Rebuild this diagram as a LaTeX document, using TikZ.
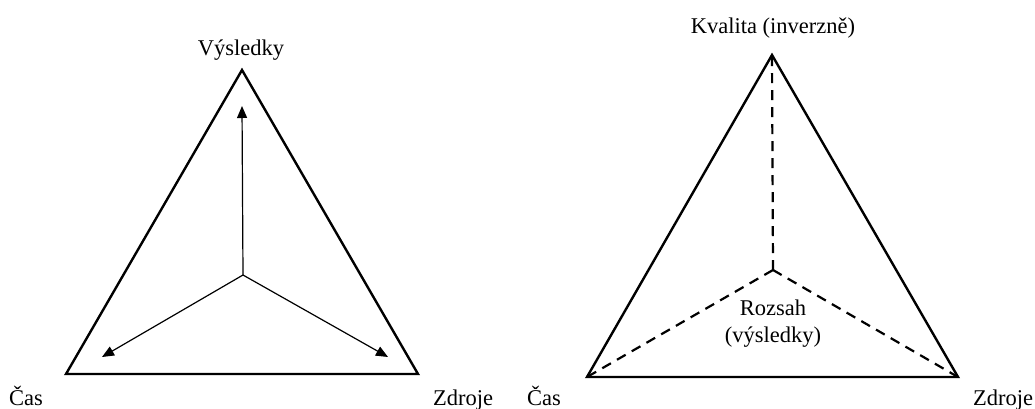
\documentclass[tikz,border=0pt]{standalone}
\usepackage{fontspec}
\setmainfont{Liberation Serif}
\usetikzlibrary{arrows.meta}
\begin{document}
\begin{tikzpicture}[x=1pt,y=-1pt,
  tri/.style={line width=2.4pt},
  arr/.style={line width=1.2pt,-{Triangle[length=12pt,width=10pt]}},
  dsh/.style={line width=2.2pt,dash pattern=on 10pt off 7pt},
  lbl/.style={anchor=base,inner sep=0pt,font=\fontsize{22.5}{27}\selectfont}]
\useasboundingbox (0,0) rectangle (1035,408);
% left triangle
\coordinate (LA) at (242,70);
\coordinate (LB) at (66,374);
\coordinate (LC) at (418,374);
\coordinate (LO) at (243,275);
\coordinate (LTa) at (242,106);
\coordinate (LTb) at (102,357);
\coordinate (LTc) at (388,357);
\draw[tri] (LA) -- (LB) -- (LC) -- cycle;
\draw[arr] (LO) -- (LTa);
\draw[arr] (LO) -- (LTb);
\draw[arr] (LO) -- (LTc);
\node[lbl] (vys) at (241,55) {Výsledky};
\node[lbl] (cas1) at (26,405) {Čas};
\node[lbl] (zdr1) at (463,405) {Zdroje};
% right triangle
\coordinate (RA) at (772,55);
\coordinate (RB) at (587,377);
\coordinate (RC) at (958,377);
\coordinate (RO) at (773,270);
\draw[tri] (RA) -- (RB) -- (RC) -- cycle;
\draw[dsh] (RO) -- (RA);
\draw[dsh] (RO) -- (RB);
\draw[dsh] (RO) -- (RC);
\node[lbl] (kva) at (773,33) {Kvalita (inverzně)};
\node[lbl] (cas2) at (544,405) {Čas};
\node[lbl] (zdr2) at (1003,405) {Zdroje};
\node[lbl] (roz1) at (773,315) {Rozsah};
\node[lbl] (roz2) at (773,342) {(výsledky)};
\end{tikzpicture}
\end{document}
